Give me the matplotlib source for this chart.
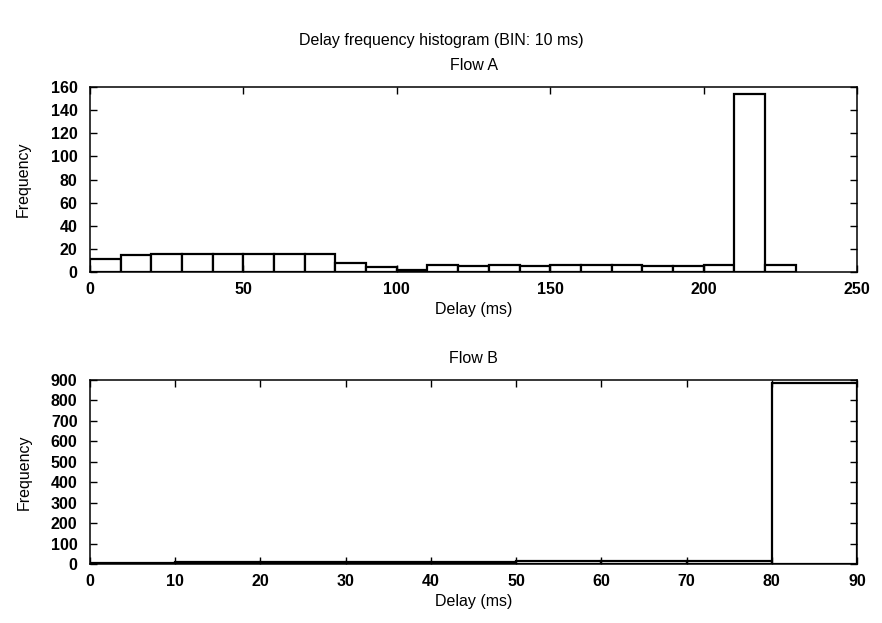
import numpy as np
import matplotlib
matplotlib.use("Agg")
import matplotlib.pyplot as plt

plt.rcParams['font.family'] = ['Liberation Sans', 'DejaVu Sans']

# Flow A: 10 ms bins from 0 to 230 ms
bin_width = 10
flow_a_counts = [11, 15, 16, 16, 16, 16, 16, 16, 8, 4, 2, 6, 5, 6, 5,
                 6, 6, 6, 5, 5, 6, 154, 6]
flow_a_xlim = (0, 250)
flow_a_ylim = (0, 160)
flow_a_xticks = [0, 50, 100, 150, 200, 250]
flow_a_yticks = [0, 20, 40, 60, 80, 100, 120, 140, 160]

# Flow B: 10 ms bins from 0 to 90 ms
flow_b_counts = [4, 9, 12, 12, 12, 13, 13, 14, 885]
flow_b_xlim = (0, 90)
flow_b_ylim = (0, 900)
flow_b_xticks = [0, 10, 20, 30, 40, 50, 60, 70, 80, 90]
flow_b_yticks = [0, 100, 200, 300, 400, 500, 600, 700, 800, 900]


def draw_hist(ax, counts, title, xlim, ylim, xticks, yticks):
    edges = np.arange(len(counts)) * bin_width
    ax.bar(edges, counts, width=bin_width, align='edge',
           facecolor='white', edgecolor='black', linewidth=1.6)
    ax.set_xlim(*xlim)
    ax.set_ylim(*ylim)
    ax.set_xticks(xticks)
    ax.set_yticks(yticks)
    ax.tick_params(direction='in', top=True, right=True, length=5,
                   width=1, labelsize=11.5)
    ax.tick_params(axis='y', pad=9)
    ax.tick_params(axis='x', pad=7)
    for lab in ax.get_xticklabels() + ax.get_yticklabels():
        lab.set_fontweight('bold')
    for sp in ax.spines.values():
        sp.set_linewidth(1.1)
    ax.set_title(title, fontsize=11.5, pad=12)
    ax.set_xlabel("Delay (ms)", fontsize=11.5, labelpad=4)
    ax.set_ylabel("Frequency", fontsize=11.5, labelpad=14)


fig = plt.figure(figsize=(8.82, 6.23), dpi=100)
W, H = 882, 623
ax_a = fig.add_axes([90 / W, 1 - 272 / H, 767 / W, 185 / H])
ax_b = fig.add_axes([90 / W, 1 - 564 / H, 767 / W, 184 / H])

draw_hist(ax_a, flow_a_counts, "Flow A", flow_a_xlim, flow_a_ylim,
          flow_a_xticks, flow_a_yticks)
draw_hist(ax_b, flow_b_counts, "Flow B", flow_b_xlim, flow_b_ylim,
          flow_b_xticks, flow_b_yticks)

fig.text(0.5, 1 - 40 / H, "Delay frequency histogram (BIN: 10 ms)",
         ha='center', va='center', fontsize=11.5)

fig.savefig("out.png", dpi=100, facecolor='white')
